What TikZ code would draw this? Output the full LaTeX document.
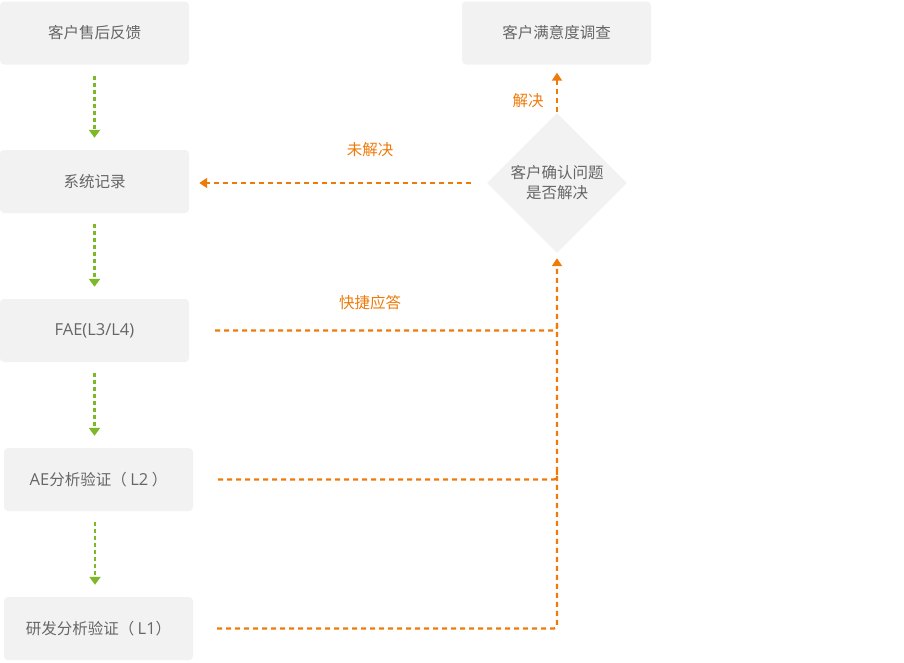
\documentclass[tikz,border=0pt]{standalone}
\usepackage{fontspec}
\setmainfont{Noto Sans CJK SC}
\newfontfamily\lat{Open Sans}
\usetikzlibrary{arrows.meta,shapes.geometric}
\definecolor{boxgray}{RGB}{242,242,242}
\definecolor{txtgray}{RGB}{102,102,102}
\definecolor{flowgreen}{RGB}{124,184,40}
\definecolor{floworange}{RGB}{238,122,10}
\tikzset{
	box/.style={fill=boxgray,rounded corners=4pt,minimum width=189pt,minimum height=63pt,inner sep=0pt,text=txtgray},
	choice/.style={diamond,fill=boxgray,minimum width=140pt,minimum height=140pt,inner sep=0pt,text=txtgray,align=center},
	down/.style={flowgreen,line width=2.3pt,dash pattern=on 4pt off 3pt,-{Triangle[width=11pt,length=8pt]}},
	back/.style={floworange,line width=2.3pt,dash pattern=on 5pt off 4pt},
	tip/.style={-{Triangle[width=10pt,length=8pt]}},
	lbl/.style={text=floworange}
}
\begin{document}
\begin{tikzpicture}[x=1pt,y=-1pt,line join=round,font=\fontsize{15.5}{20}\selectfont]
		\useasboundingbox (0,0) rectangle (904,662);
		\node[box] (fb) at (94.5,33) {客户售后反馈};
		\node[box] (rec) at (94.5,181.5) {系统记录};
		\node[box] (fae) at (94.5,330.5) {\lat\fontsize{16.5}{20}\selectfont FAE(L3/L4)};
		\node[box] (ae) at (98.5,479.5) {{\lat\fontsize{16.5}{20}\selectfont AE}分析验证（ {\lat\fontsize{16.5}{20}\selectfont L2} ）};
		\node[box] (rd) at (98.5,628.5) {研发分析验证（ {\lat\fontsize{16.5}{20}\selectfont L1}）};
		\node[box] (sv) at (556.5,33) {客户满意度调查};
		\node[choice] (ok) at (557,183) {客户确认问题\\是否解决};
		% green steps down the left column
		\foreach \a/\b in {fb/rec,rec/fae,fae/ae}
			\draw[down,shorten <=11pt,shorten >=12pt] (\a.south) -- (\a.south |- \b.north);
		\draw[down,shorten <=11pt,shorten >=12pt] ([xshift=-3.5pt]ae.south) -- ([xshift=-3.5pt]ae.south |- rd.north);
		% answers back to the customer
		\draw[back,tip,shorten <=16pt,shorten >=10pt] (ok.west) -- (ok.west -| rec.east);
		\draw[back,tip,shorten <=1pt,shorten >=8pt] (ok.north) -- (ok.north |- sv.south);
		\draw[back,rounded corners=3pt,tip] ([xshift=24pt]rd.east) -| ([yshift=-5pt]ok.south);
		\draw[back,rounded corners=3pt] ([xshift=25pt]ae.east) -| ([yshift=8pt]ae.east -| ok.south);
		\draw[back,rounded corners=3pt] ([xshift=26pt]fae.east) -| ([yshift=8pt]fae.east -| ok.south);
		\node[lbl] (no) at (370,150) {未解决};
		\node[lbl] (yes) at (528,101) {解决};
		\node[lbl] (fast) at (370,303) {快捷应答};
\end{tikzpicture}
\end{document}
